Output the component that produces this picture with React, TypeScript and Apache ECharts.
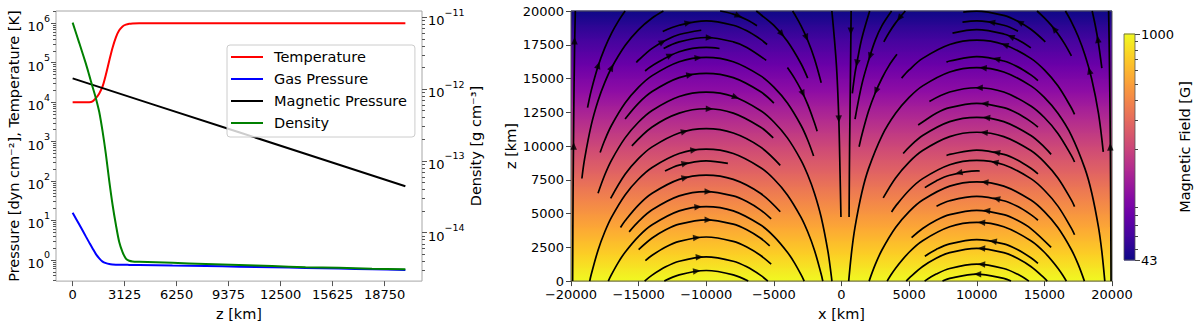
import React, { useEffect, useRef } from 'react';
import * as echarts from 'echarts';

const FONT = 'DejaVu Sans';

// ---------- Left panel: atmosphere profiles ----------
const heightKm = [0, 400, 800, 1000, 1200, 1400, 1600, 1800, 2000, 2200, 2400, 2600, 2800, 3000, 3200, 3400, 3600, 4000, 6000, 8000, 10000, 12000, 14000, 16000, 18000, 20000];
const temperatureK = [1.0e4, 1.0e4, 1.0e4, 1.0e4, 1.05e4, 1.26e4, 1.66e4, 2.5e4, 5.0e4, 1.12e5, 2.4e5, 4.4e5, 6.6e5, 8.3e5, 9.2e5, 9.7e5, 9.9e5, 1.0e6, 1.0e6, 1.0e6, 1.0e6, 1.0e6, 1.0e6, 1.0e6, 1.0e6, 1.0e6];
const gasPressure = [15.8, 7.9, 3.9, 2.75, 1.95, 1.41, 1.10, 0.91, 0.83, 0.785, 0.767, 0.759, 0.755, 0.752, 0.751, 0.750, 0.749, 0.748, 0.72, 0.70, 0.675, 0.652, 0.628, 0.605, 0.582, 0.56];
const density = [8.43e-12, 4.37e-12, 2.24e-12, 1.55e-12, 1.07e-12, 7.41e-13, 4.79e-13, 2.57e-13, 1.23e-13, 5.25e-14, 2.45e-14, 1.29e-14, 7.41e-15, 5.37e-15, 4.37e-15, 4.07e-15, 3.98e-15, 3.94e-15, 3.80e-15, 3.67e-15, 3.55e-15, 3.43e-15, 3.31e-15, 3.24e-15, 3.16e-15, 3.09e-15];
const magHeightKm = [0, 5000, 10000, 15000, 20000];
const magneticPressure = [4.0e4, 8300, 1720, 357, 74];

const zTickLabels = [0, 3125, 6250, 9375, 12500, 15625, 18750];
const pressureDecades = [0, 1, 2, 3, 4, 5, 6];
const densityDecades = [-14, -13, -12, -11];

// ---------- Right panel: field strength & field lines ----------
const fieldHeightKm = [0, 1000, 2000, 3000, 4000, 5000, 6000, 7000, 8000, 9000, 10000, 11000, 12000, 13000, 14000, 15000, 16000, 17000, 18000, 19000, 20000];
const fieldStrengthG = [1000, 855, 730, 624, 534, 456, 390, 333, 285, 243, 208, 178, 152, 130, 111, 95, 81, 69, 59, 51, 43];
const colorbarLevelsG = [43, 50, 60, 70, 80, 90, 100, 150, 200, 300, 400, 500, 600, 700, 800, 900, 1000];
const colorbarTicksG = [43, 1000];
const colorbarMinorG = [50, 60, 70, 80, 90, 200, 300, 400, 500, 600, 700, 800, 900];

// field lines arching over x = -10000 (arrows point +x at top)
const leftFamilyLines: number[][][] = [
  [[-13104, 0], [-12000, 466], [-10000, 785], [-8000, 466], [-6896, 0]],
  [[-14556, 0], [-14000, 441], [-13000, 1055], [-12000, 1471], [-10000, 1790], [-8000, 1471], [-7000, 1055], [-6000, 441], [-5444, 0]],
  [[-14500, 1520], [-14000, 1915], [-13000, 2529], [-12000, 2945], [-10000, 3264], [-8000, 2945], [-7000, 2529], [-6000, 1915], [-5200, 1252]],
  [[-15000, 2334], [-14000, 3191], [-13000, 3805], [-12000, 4221], [-10000, 4540], [-8000, 4221], [-7000, 3805], [-6000, 3191], [-5307, 2610]],
  [[-17242, 0], [-17000, 495], [-16500, 1390], [-16000, 2139], [-15000, 3316], [-14000, 4173], [-12000, 5203], [-10000, 5522], [-8000, 5203], [-6000, 4173], [-5000, 3316], [-4000, 2139], [-3500, 1390], [-3000, 495], [-2758, 0]],
  [[-15700, 3643], [-15000, 4420], [-14000, 5277], [-12000, 6307], [-10000, 6626], [-8000, 6307], [-7000, 5891], [-6000, 5277], [-5200, 4614]],
  [[-16340, 3969], [-16000, 4470], [-15000, 5647], [-14000, 6504], [-12000, 7534], [-10000, 7853], [-8000, 7534], [-6000, 6504], [-4528, 5137]],
  [[-13050, 8148], [-12000, 8589], [-10000, 8908], [-8400, 8712]],
  [[-18617, 0], [-18500, 506], [-18000, 2291], [-17500, 3652], [-17000, 4740], [-16000, 6384], [-15000, 7561], [-14000, 8418], [-12000, 9448], [-10000, 9767], [-8000, 9448], [-6000, 8418], [-5000, 7561], [-4000, 6384], [-3000, 4740], [-2500, 3652], [-2000, 2291], [-1500, 506], [-1383, 0]],
  [[-17067, 6123], [-16000, 7905], [-15000, 9082], [-14000, 9939], [-12000, 10969], [-10000, 11288], [-8000, 10969], [-6000, 9939], [-4528, 8572]],
  [[-15500, 10013], [-14000, 11412], [-12000, 12442], [-10000, 12761], [-8000, 12442], [-6000, 11412], [-5048, 10601]],
  [[-18000, 6512], [-17500, 7873], [-17000, 8961], [-16000, 10605], [-15000, 11782], [-14000, 12639], [-12000, 13669], [-10000, 13988], [-8000, 13669], [-6000, 12639], [-5000, 11782], [-4000, 10605], [-3000, 8961], [-2500, 7873], [-2000, 6512], [-1500, 4727], [-1000, 2178], [-750, 359], [-708, 0]],
  [[-16000, 12004], [-15000, 13181], [-14000, 14038], [-12000, 15068], [-10000, 15387], [-8000, 15068], [-6000, 14038], [-5000, 13181]],
  [[-17845, 9525], [-17500, 10450], [-17000, 11538], [-16000, 13182], [-15000, 14359], [-14000, 15216], [-12000, 16246], [-10000, 16565], [-8000, 16246], [-6000, 15216], [-5000, 14359], [-4000, 13182], [-3000, 11538], [-2500, 10450], [-2062, 9265]],
  [[-14523, 15558], [-14000, 15952], [-12000, 16982], [-10000, 17301], [-9019, 17225]],
  [[-13150, 17227], [-12000, 17718], [-10000, 18037], [-8000, 17718], [-7000, 17302], [-5567, 16347]],
  [[-15171, 16187], [-15000, 16371], [-14000, 17228], [-13000, 17842], [-12000, 18258], [-10369, 18577]],
  [[-13219, 18484], [-12000, 18945], [-10000, 19264], [-8000, 18945], [-7000, 18529], [-6000, 17915], [-5500, 17520]],
  [[-8976, 20000], [-8000, 19768], [-7000, 19352], [-6250, 18912]],
  [[-6304, 20000], [-6000, 19759], [-5000, 18936], [-4000, 17759], [-3000, 16115], [-2500, 15027]],
  [[-19195, 7597], [-19000, 9017], [-18500, 11566], [-18000, 13351], [-17500, 14712], [-17000, 15800], [-16000, 17444], [-15000, 18621], [-14000, 19478], [-13168, 20000]],
  [[-18776, 12846], [-18500, 14121], [-18000, 15906], [-17500, 17267], [-17000, 18355], [-16500, 19250], [-16000, 19999]],
  [[-3616, 20000], [-3500, 19815], [-3000, 18920], [-2500, 17832], [-2000, 16471], [-1500, 14686]],
  [[-4000, 15817], [-3500, 15068], [-3000, 14173], [-2500, 13085], [-2000, 11724], [-1800, 11100]],
  [[-19880, 0], [-19850, 6000], [-19800, 12000], [-19740, 17000], [-19680, 20000]],
  [[-712, 20000], [-376, 16000], [-200, 12000], [-107, 8000], [-40, 4750]],
];

// field lines arching over x = +10000 (arrows point -x at top)
const rightFamilyLines: number[][][] = [
  [[7466, 0], [8000, 196], [10000, 515], [12000, 196], [12534, 0]],
  [[6145, 0], [7000, 519], [8000, 935], [10000, 1254], [12000, 935], [13000, 519], [13855, 0]],
  [[4788, 0], [5000, 224], [6000, 1081], [7000, 1695], [8000, 2111], [10000, 2430], [12000, 2111], [13000, 1695], [14000, 1081], [15000, 224], [15212, 0]],
  [[6162, 1842], [7000, 2342], [8000, 2758], [10000, 3077], [12000, 2758], [13000, 2342], [14000, 1728], [14526, 1312]],
  [[3375, 0], [3500, 210], [4000, 959], [5000, 2136], [6000, 2993], [8000, 4023], [10000, 4342], [12000, 4023], [14000, 2993], [15000, 2136], [16000, 959], [16500, 210], [16625, 0]],
  [[5181, 3212], [6000, 3892], [7000, 4506], [8000, 4922], [10000, 5241], [12000, 4922], [13000, 4506], [14000, 3892], [15500, 2493]],
  [[7026, 5548], [8000, 5951], [10000, 6270], [12000, 5951], [13000, 5535], [14000, 4921], [14526, 4505]],
  [[2040, 0], [2500, 1235], [3000, 2323], [4000, 3967], [5000, 5144], [6000, 6001], [8000, 7031], [10000, 7350], [12000, 7031], [14000, 6001], [15000, 5144], [16000, 3967], [17000, 2323], [17500, 1235], [17960, 0]],
  [[6162, 6920], [7000, 7420], [8000, 7836], [10000, 8155], [10221, 8153]],
  [[3700, 5115], [4000, 5552], [5000, 6729], [6000, 7586], [8000, 8616], [10000, 8935], [12000, 8616], [14000, 7586], [15000, 6729], [16000, 5552], [17000, 3908], [17232, 3434]],
  [[7764, 9304], [8000, 9385], [10000, 9704], [12000, 9385], [13000, 8969], [14000, 8355], [14526, 7939]],
  [[3085, 6160], [4000, 7637], [5000, 8814], [6000, 9671], [8000, 10701], [10000, 11020], [12000, 10701], [14000, 9671], [15000, 8814], [16000, 7637], [17000, 5993], [17232, 5519]],
  [[4561, 9453], [5000, 9924], [6000, 10781], [8000, 11811], [10000, 12130], [12000, 11811], [14000, 10781], [15000, 9924], [15500, 9382]],
  [[5668, 11556], [6000, 11777], [7000, 12425], [8000, 12841], [10000, 13160], [12000, 12841], [13000, 12425], [14000, 11811], [14526, 11395]],
  [[6500, 13303], [8000, 13999], [10000, 14318], [12000, 13999], [14000, 12969], [15000, 12112], [16000, 10935], [17000, 9291], [17232, 8817]],
  [[532, 0], [750, 2176], [1000, 3995], [1500, 6544], [2000, 8329], [3000, 10778], [4000, 12422], [5000, 13599], [6000, 14456], [8000, 15486], [10000, 15805], [12000, 15486], [14000, 14456], [15000, 13599], [16000, 12422], [17000, 10778], [18000, 8329], [18500, 6544], [19000, 3995], [19250, 2176], [19468, 0]],
  [[7762, 16215], [8000, 16297], [10000, 16616], [12000, 16297], [13000, 15881], [14000, 15267], [14526, 14851]],
  [[4443, 15027], [5000, 15635], [6000, 16492], [8000, 17522], [10000, 17841], [12000, 17522], [14000, 16492], [15000, 15635], [16000, 14458], [17000, 12814], [17232, 12340]],
  [[8207, 18362], [10000, 18618], [12000, 18299], [13000, 17883], [14000, 17269]],
  [[8945, 19174], [10000, 19262], [12000, 18943], [13048, 18503]],
  [[9000, 19916], [10000, 19995], [12000, 19676], [13000, 19260], [14000, 18646], [15070, 17718]],
  [[14456, 20000], [15000, 19494], [15500, 18952], [16000, 18317], [16500, 17568], [17000, 16673]],
  [[16555, 20000], [17000, 19199], [17500, 18111], [18000, 16750], [18500, 14965], [19000, 12416], [19354, 9571]],
  [[18534, 20000], [18750, 19000], [18950, 17914], [19100, 16900], [19250, 15771]],
  [[19930, 0], [19880, 10000], [19800, 17000], [19750, 20000]],
  [[712, 20000], [660, 15000], [600, 10000], [560, 4750]],
  [[3705, 20000], [3000, 18930], [2500, 17842], [2000, 16334], [1500, 14549], [1000, 12000]],
  [[2084, 20000], [1500, 17962], [1131, 16123], [1000, 15413], [800, 13900]],
  [[4100, 16790], [3500, 15940], [3000, 15039], [2500, 13950], [2000, 12590], [1500, 10805], [1300, 9950]],
  [[4718, 20000], [4000, 19120], [3500, 18371], [3130, 17713]],
];

// arrow heads: x, z, direction (degrees, counter-clockwise from +x)
const arrowHeads: number[][] = [
  [-10700, 746, 6.3], [-10500, 1780, 4.5], [-10700, 3225, 6.3], [-9850, 4539, -1.4], [-10600, 5493, 5.4],
  [-9850, 6625, -1.4], [-11550, 7663, 14], [-11550, 8718, 14], [-10900, 9703, 8.1], [-11600, 11085, 14.4],
  [-9760, 12758, -2.2], [-7815, 13608, -19.7], [-11200, 15273, 10.8], [-10590, 16537, 5.3], [-12657, 16728, 23.9],
  [-9760, 18034, -2.2], [-13225, 17722, 29], [-11328, 19124, 12], [-7613, 19632, -21.5], [-4413, 18287, -50.3],
  [-16990, 15822, 62.9], [-17975, 15990, 71.8], [-2581, 18017, -66.8], [-2841, 13870, -64.4],
  [-19800, 10000, 89.5], [-19740, 17800, 89.5], [-200, 12000, -88.5],
  [10052, 515, 179.5], [10347, 1250, 176.9], [10347, 2426, 176.9], [11203, 2962, 169.2], [10347, 4338, 176.9],
  [10716, 5221, 173.6], [11454, 6103, 166.9], [10590, 7331, 174.7], [8672, 8015, 192], [11328, 8801, 168],
  [11454, 9537, 166.9], [10539, 11000, 175.1], [10716, 12110, 173.6], [10590, 13140, 174.7], [10170, 14316, 178.5],
  [10465, 15787, 175.8], [11454, 16449, 166.9], [12066, 17500, 161.4], [12509, 18110, 157.4], [11085, 19169, 170.2],
  [13173, 19169, 151.4], [15717, 18680, 128.5], [18330, 15586, 105], [18950, 17914, 99.5], [19874, 9939, 90.5],
  [690, 18500, 270], [2103, 16640, 251], [1131, 16123, 259.8], [2546, 14066, 247], [4266, 19463, 231.6],
];

// ---------- helpers ----------
const log10 = Math.log10;
const LEFT_MIN = -0.536, LEFT_MAX = 6.31;
const RIGHT_MIN = -14.674, RIGHT_MAX = -10.913;
const B_MIN_LOG = log10(43), B_MAX_LOG = 3;

const PLASMA = ['#0d0887', '#41049d', '#6a00a8', '#8f0da4', '#b12a90', '#cc4778', '#e16462', '#f2844b', '#fca636', '#fcce25', '#f0f921'];
const hexRgb = (h: string) => [parseInt(h.slice(1, 3), 16), parseInt(h.slice(3, 5), 16), parseInt(h.slice(5, 7), 16)];
function plasma(t: number) {
  const c = Math.min(1, Math.max(0, t));
  const p = c * (PLASMA.length - 1);
  const i = Math.min(PLASMA.length - 2, Math.floor(p));
  const f = p - i;
  const a = hexRgb(PLASMA[i]);
  const b = hexRgb(PLASMA[i + 1]);
  const m = a.map((v, k) => Math.round(v + (b[k] - v) * f));
  return `rgb(${m[0]},${m[1]},${m[2]})`;
}
const logFieldColor = (lb: number) => plasma((lb - B_MIN_LOG) / (B_MAX_LOG - B_MIN_LOG));

function minorLogTicks(decades: number[], lo: number, hi: number) {
  const out: number[] = [];
  decades.forEach((n) => {
    for (let k = 2; k <= 9; k++) {
      const v = n + log10(k);
      if (v >= lo && v <= hi) out.push(v);
    }
  });
  return out;
}

const minusFmt = (v: number) => (v < 0 ? '\u2212' + Math.abs(v) : String(v));

const axisName = { fontFamily: FONT, fontSize: 14.5, color: '#000' };
const tickText = { fontFamily: FONT, fontSize: 13, color: '#000' };
const supRich = {
  b: { fontFamily: FONT, fontSize: 13, color: '#000', lineHeight: 20, verticalAlign: 'bottom' },
  s: { fontFamily: FONT, fontSize: 9.5, color: '#000', lineHeight: 9, verticalAlign: 'top' },
};
const TICK_L = '#555';
const TICK_R = '#444';
const noLine = { show: false, onZero: false };

function buildOption() {
  const leftMinor = minorLogTicks([-1, 0, 1, 2, 3, 4, 5, 6], LEFT_MIN, LEFT_MAX);
  const rightMinor = minorLogTicks([-15, -14, -13, -12, -11], RIGHT_MIN, RIGHT_MAX);

  const profile = (vals: number[], zs: number[]) => zs.map((z, i) => [z, log10(vals[i])]);

  const bandData = fieldHeightKm.slice(0, -1).map((z, i) => [z, fieldHeightKm[i + 1], log10(fieldStrengthG[i]), log10(fieldStrengthG[i + 1])]);
  const cbData = colorbarLevelsG.slice(0, -1).map((b, i) => [0, log10(b), log10(colorbarLevelsG[i + 1])]);

  const streamSeries = [...leftFamilyLines, ...rightFamilyLines].map((pts, i) => ({
    type: 'line',
    name: 'fl' + i,
    xAxisIndex: 1,
    yAxisIndex: 4,
    data: pts,
    smooth: 0.35,
    symbol: 'none',
    silent: true,
    z: 3,
    lineStyle: { color: '#000', width: 1.7 },
  }));

  return {
    animation: false,
    backgroundColor: '#fff',
    grid: [
      { left: 56, top: 11, width: 366, height: 272, show: true, borderColor: '#a6a6a6', borderWidth: 1, backgroundColor: 'transparent' },
      { left: 571, top: 11, width: 541, height: 272, show: true, borderColor: '#555', borderWidth: 1, backgroundColor: 'transparent' },
      { left: 1124, top: 34, width: 11, height: 226, show: true, borderColor: '#555', borderWidth: 0.8, backgroundColor: 'transparent' },
    ],
    legend: {
      data: [
        { name: 'Temperature', icon: 'rect' },
        { name: 'Gas Pressure', icon: 'rect' },
        { name: 'Magnetic Pressure', icon: 'rect' },
        { name: 'Density', icon: 'rect' },
      ],
      orient: 'vertical',
      left: 227,
      top: 45,
      itemWidth: 32,
      itemHeight: 2,
      itemGap: 4,
      padding: [3, 8, 5, 4],
      backgroundColor: 'rgba(255,255,255,0.8)',
      borderColor: '#cccccc',
      borderWidth: 1,
      borderRadius: 3,
      selectedMode: false,
      textStyle: { fontFamily: FONT, fontSize: 14.5, color: '#000', lineHeight: 18, padding: [0, 0, 0, 6] },
    },
    xAxis: [
      {
        gridIndex: 0, type: 'value', min: -1000, max: 21000,
        axisLine: noLine,
        axisTick: { show: true, customValues: zTickLabels, length: 5, lineStyle: { color: TICK_L } },
        axisLabel: { customValues: zTickLabels, formatter: minusFmt, margin: 7, ...tickText },
        splitLine: { show: false },
        name: 'z [km]', nameLocation: 'middle', nameGap: 21, nameTextStyle: axisName,
      },
      {
        gridIndex: 1, type: 'value', min: -20000, max: 20000, interval: 5000,
        axisLine: noLine,
        axisTick: { show: true, length: 5, lineStyle: { color: TICK_R } },
        axisLabel: { formatter: minusFmt, margin: 7, showMinLabel: true, showMaxLabel: true, ...tickText },
        splitLine: { show: false },
        name: 'x [km]', nameLocation: 'middle', nameGap: 19, nameTextStyle: axisName,
        z: 5,
      },
      { gridIndex: 2, type: 'value', min: 0, max: 1, show: false, axisLine: noLine },
    ],
    yAxis: [
      {
        gridIndex: 0, type: 'value', position: 'left', min: LEFT_MIN, max: LEFT_MAX,
        axisLine: noLine,
        axisTick: { show: true, customValues: pressureDecades, length: 5, lineStyle: { color: TICK_L } },
        axisLabel: { customValues: pressureDecades, margin: 6, formatter: (v: number) => `{b|10}{s|${minusFmt(Math.round(v))}}`, rich: supRich },
        splitLine: { show: false },
        name: 'Pressure [dyn cm\u207B\u00B2], Temperature [K]', nameLocation: 'middle', nameRotate: 90, nameGap: 35, nameTextStyle: axisName,
      },
      {
        gridIndex: 0, type: 'value', position: 'right', min: RIGHT_MIN, max: RIGHT_MAX,
        axisLine: noLine,
        axisTick: { show: true, customValues: densityDecades, length: 5, lineStyle: { color: TICK_L } },
        axisLabel: { customValues: densityDecades, margin: 6, formatter: (v: number) => `{b|10}{s|${minusFmt(Math.round(v))}}`, rich: supRich },
        splitLine: { show: false },
        name: 'Density [g cm\u207B\u00B3]', nameLocation: 'middle', nameRotate: 90, nameGap: 46, nameTextStyle: axisName,
      },
      {
        gridIndex: 0, type: 'value', position: 'left', min: LEFT_MIN, max: LEFT_MAX,
        axisLine: noLine, axisLabel: { show: false }, splitLine: { show: false },
        axisTick: { show: true, customValues: leftMinor, length: 3, lineStyle: { color: TICK_L } },
      },
      {
        gridIndex: 0, type: 'value', position: 'right', min: RIGHT_MIN, max: RIGHT_MAX,
        axisLine: noLine, axisLabel: { show: false }, splitLine: { show: false },
        axisTick: { show: true, customValues: rightMinor, length: 3, lineStyle: { color: TICK_L } },
      },
      {
        gridIndex: 1, type: 'value', position: 'left', min: 0, max: 20000, interval: 2500,
        axisLine: noLine,
        axisTick: { show: true, length: 5, lineStyle: { color: TICK_R } },
        axisLabel: { formatter: minusFmt, margin: 7, showMinLabel: true, showMaxLabel: true, ...tickText },
        splitLine: { show: false },
        name: 'z [km]', nameLocation: 'middle', nameRotate: 90, nameGap: 52, nameTextStyle: axisName,
        z: 5,
      },
      {
        gridIndex: 2, type: 'value', position: 'right', min: B_MIN_LOG, max: B_MAX_LOG,
        axisLine: noLine,
        axisTick: { show: true, customValues: colorbarTicksG.map(log10), length: 5, lineStyle: { color: TICK_R } },
        axisLabel: { customValues: colorbarTicksG.map(log10), margin: 6, formatter: (v: number) => String(Math.round(Math.pow(10, v))), ...tickText },
        splitLine: { show: false },
        name: 'Magnetic Field [G]', nameLocation: 'middle', nameRotate: 90, nameGap: 42, nameTextStyle: axisName,
      },
      {
        gridIndex: 2, type: 'value', position: 'right', min: B_MIN_LOG, max: B_MAX_LOG,
        axisLine: noLine, axisLabel: { show: false }, splitLine: { show: false },
        axisTick: { show: true, customValues: colorbarMinorG.map(log10), length: 3, lineStyle: { color: TICK_R } },
      },
    ],
    series: [
      {
        type: 'custom', xAxisIndex: 1, yAxisIndex: 4, z: -1, silent: true,
        data: bandData,
        renderItem: (params: any, api: any) => {
          const z0 = api.value(0), z1 = api.value(1), b0 = api.value(2), b1 = api.value(3);
          const p0 = api.coord([-20000, z1]);
          const p1 = api.coord([20000, z0]);
          return {
            type: 'rect',
            shape: { x: p0[0], y: p0[1] - 0.5, width: p1[0] - p0[0], height: p1[1] - p0[1] + 1 },
            style: {
              fill: new echarts.graphic.LinearGradient(0, 0, 0, 1, [
                { offset: 0, color: logFieldColor(b1) },
                { offset: 1, color: logFieldColor(b0) },
              ]),
            },
          };
        },
      },
      {
        type: 'custom', xAxisIndex: 2, yAxisIndex: 5, z: -1, silent: true,
        data: cbData,
        encode: { x: 0, y: [1, 2] },
        renderItem: (params: any, api: any) => {
          const l0 = api.value(1), l1 = api.value(2);
          const p0 = api.coord([0, l1]);
          const p1 = api.coord([1, l0]);
          return {
            type: 'rect',
            shape: { x: p0[0], y: p0[1] - 0.5, width: p1[0] - p0[0], height: p1[1] - p0[1] + 1 },
            style: {
              fill: new echarts.graphic.LinearGradient(0, 0, 0, 1, [
                { offset: 0, color: logFieldColor(l1) },
                { offset: 1, color: logFieldColor(l0) },
              ]),
            },
          };
        },
      },
      ...streamSeries,
      {
        type: 'scatter', xAxisIndex: 1, yAxisIndex: 4, z: 4, silent: true,
        symbol: 'triangle', symbolSize: [6.5, 7.5],
        itemStyle: { color: '#000' },
        data: arrowHeads.map(([x, z, deg]) => ({ value: [x, z], symbolRotate: deg - 90 })),
      },
      {
        name: 'Temperature', type: 'line', xAxisIndex: 0, yAxisIndex: 0, data: profile(temperatureK, heightKm),
        symbol: 'none', smooth: 0.3, lineStyle: { color: '#ff0000', width: 2 }, itemStyle: { color: '#ff0000' }, z: 3,
      },
      {
        name: 'Gas Pressure', type: 'line', xAxisIndex: 0, yAxisIndex: 0, data: profile(gasPressure, heightKm),
        symbol: 'none', smooth: 0.3, lineStyle: { color: '#0000ff', width: 2 }, itemStyle: { color: '#0000ff' }, z: 3,
      },
      {
        name: 'Magnetic Pressure', type: 'line', xAxisIndex: 0, yAxisIndex: 0, data: profile(magneticPressure, magHeightKm),
        symbol: 'none', lineStyle: { color: '#000000', width: 2 }, itemStyle: { color: '#000000' }, z: 3,
      },
      {
        name: 'Density', type: 'line', xAxisIndex: 0, yAxisIndex: 1, data: profile(density, heightKm),
        symbol: 'none', smooth: 0.3, lineStyle: { color: '#008000', width: 2 }, itemStyle: { color: '#008000' }, z: 3,
      },
    ],
  };
}

export default function App() {
  const ref = useRef<HTMLDivElement>(null);
  useEffect(() => {
    if (!ref.current) return;
    const chart = echarts.init(ref.current, null, { renderer: 'svg' });
    chart.setOption(buildOption() as any);
    return () => chart.dispose();
  }, []);
  return (
    <div
      ref={ref}
      style={{ position: 'absolute', left: 0, top: 0, width: 1200, height: 326, background: '#fff' }}
    />
  );
}
